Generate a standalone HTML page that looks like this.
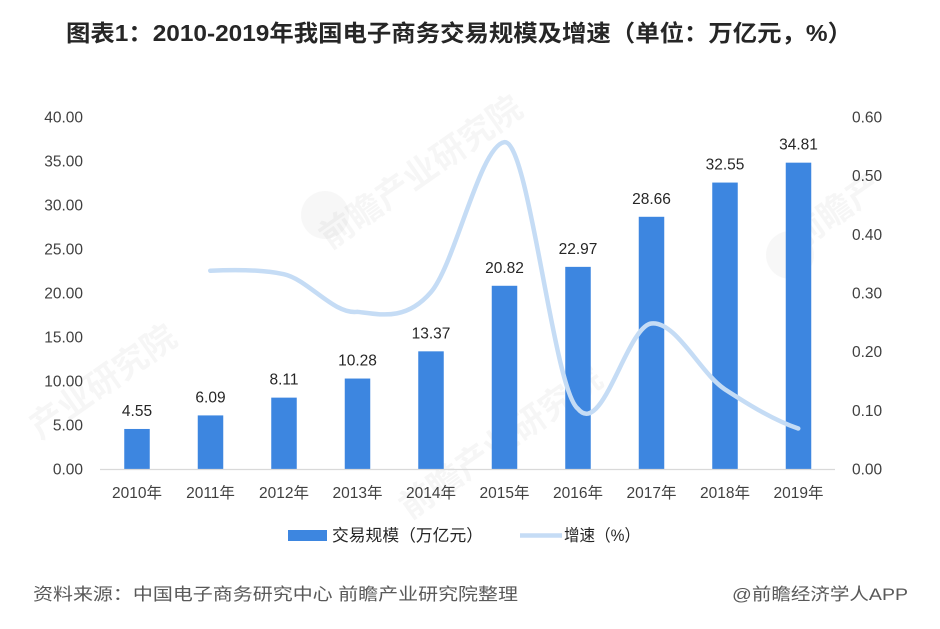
<!DOCTYPE html>
<html>
<head>
<meta charset="utf-8">
<style>
  html,body{margin:0;padding:0;background:#fff;}
  svg{display:block;}
  text{font-family:"Liberation Sans","Noto Sans CJK SC",sans-serif;}
</style>
</head>
<body>
<svg width="940" height="629" viewBox="0 0 940 629" xmlns="http://www.w3.org/2000/svg">
  <rect width="940" height="629" fill="#ffffff"/>

  <!-- faint watermarks -->
  <g fill="#000" fill-opacity="0.035" font-weight="bold" font-size="34">
    <text x="330" y="250" transform="rotate(-35 330 250)">前瞻产业研究院</text>
    <text x="40" y="440" transform="rotate(-35 40 440)">产业研究院</text>
    <text x="410" y="520" transform="rotate(-35 410 520)">前瞻产业研究院</text>
    <text x="800" y="250" transform="rotate(-35 800 250)">前瞻产</text>
  </g>
  <g fill="#000" fill-opacity="0.03">
    <circle cx="325" cy="215" r="24"/>
    <circle cx="790" cy="255" r="24"/>
  </g>

  <!-- Title -->
  <text x="66" y="41" font-size="23" font-weight="bold" fill="#262626" textLength="786" lengthAdjust="spacingAndGlyphs">图表1：2010-2019年我国电子商务交易规模及增速（单位：万亿元，%）</text>

  <!-- Left axis labels -->
  <g font-size="15.5" fill="#404040" text-anchor="end">
    <text x="83" y="122.5">40.00</text>
    <text x="83" y="166.5">35.00</text>
    <text x="83" y="210.5">30.00</text>
    <text x="83" y="254.5">25.00</text>
    <text x="83" y="298.5">20.00</text>
    <text x="83" y="342.5">15.00</text>
    <text x="83" y="386.5">10.00</text>
    <text x="83" y="430.5">5.00</text>
    <text x="83" y="474.5">0.00</text>
  </g>

  <!-- Right axis labels -->
  <g font-size="15.5" fill="#404040" text-anchor="start">
    <text x="852" y="122.5">0.60</text>
    <text x="852" y="181.2">0.50</text>
    <text x="852" y="239.8">0.40</text>
    <text x="852" y="298.5">0.30</text>
    <text x="852" y="357.2">0.20</text>
    <text x="852" y="415.8">0.10</text>
    <text x="852" y="474.5">0.00</text>
  </g>

  <!-- Bars -->
  <g fill="#3d86e0">
    <rect x="124.25" y="428.96" width="25.5" height="40.04"/>
    <rect x="197.75" y="415.41" width="25.5" height="53.59"/>
    <rect x="271.25" y="397.63" width="25.5" height="71.37"/>
    <rect x="344.75" y="378.54" width="25.5" height="90.46"/>
    <rect x="418.25" y="351.34" width="25.5" height="117.66"/>
    <rect x="491.75" y="285.78" width="25.5" height="183.22"/>
    <rect x="565.25" y="266.86" width="25.5" height="202.14"/>
    <rect x="638.75" y="216.79" width="25.5" height="252.21"/>
    <rect x="712.25" y="182.56" width="25.5" height="286.44"/>
    <rect x="785.75" y="162.67" width="25.5" height="306.33"/>
  </g>

  <!-- Axis line -->
  <line x1="100" y1="469.5" x2="835" y2="469.5" stroke="#d9d9d9" stroke-width="1.2"/>

  <!-- Bar value labels -->
  <g font-size="15.5" fill="#262626" text-anchor="middle">
    <text x="137" y="416">4.55</text>
    <text x="210.5" y="402.4">6.09</text>
    <text x="284" y="384.6">8.11</text>
    <text x="357.5" y="365.5">10.28</text>
    <text x="431" y="338.3">13.37</text>
    <text x="504.5" y="272.8">20.82</text>
    <text x="578" y="253.9">22.97</text>
    <text x="651.5" y="203.8">28.66</text>
    <text x="725" y="169.6">32.55</text>
    <text x="798.5" y="149.7">34.81</text>
  </g>

  <!-- Growth line (Catmull-Rom smoothed) -->
  <path d="M210.25,270.7
    C222.5,270.12 259.25,268.85 283.75,274.2
    C308.25,279.55 333.75,314.8 357.25,311.8
    C381.75,314.8 406.25,320.7 430.75,292.4
    C455.25,264.1 479.75,146.3 504.25,142.2
    C528.75,138.1 553.25,389.2 577.75,408.6
    C602.25,438.8 626.75,326.7 651.25,323.5
    C675.75,320.3 700.25,373.3 724.75,389.2
    C749.25,405.1 773.75,420.1 798.25,428.5"
    fill="none" stroke="#c5dcf5" stroke-width="4.5" stroke-linecap="round" stroke-linejoin="round"/>

  <!-- Year labels -->
  <g font-size="15.5" fill="#404040" text-anchor="middle">
    <text x="137" y="498">2010年</text>
    <text x="210.5" y="498">2011年</text>
    <text x="284" y="498">2012年</text>
    <text x="357.5" y="498">2013年</text>
    <text x="431" y="498">2014年</text>
    <text x="504.5" y="498">2015年</text>
    <text x="578" y="498">2016年</text>
    <text x="651.5" y="498">2017年</text>
    <text x="725" y="498">2018年</text>
    <text x="798.5" y="498">2019年</text>
  </g>

  <!-- Legend -->
  <rect x="288" y="530" width="39" height="11" fill="#3d86e0"/>
  <text x="332" y="541" font-size="16.5" fill="#262626" textLength="151" lengthAdjust="spacingAndGlyphs">交易规模（万亿元）</text>
  <line x1="520" y1="535.5" x2="562" y2="535.5" stroke="#c5dcf5" stroke-width="4.5"/>
  <text x="564" y="541" font-size="16.5" fill="#262626" textLength="76" lengthAdjust="spacingAndGlyphs">增速（%）</text>

  <!-- Footer -->
  <text x="33" y="600" font-size="17" fill="#595959" textLength="485" lengthAdjust="spacingAndGlyphs">资料来源：中国电子商务研究中心 前瞻产业研究院整理</text>
  <text x="732" y="600" font-size="17" fill="#595959" textLength="176" lengthAdjust="spacingAndGlyphs">@前瞻经济学人APP</text>
</svg>
</body>
</html>
